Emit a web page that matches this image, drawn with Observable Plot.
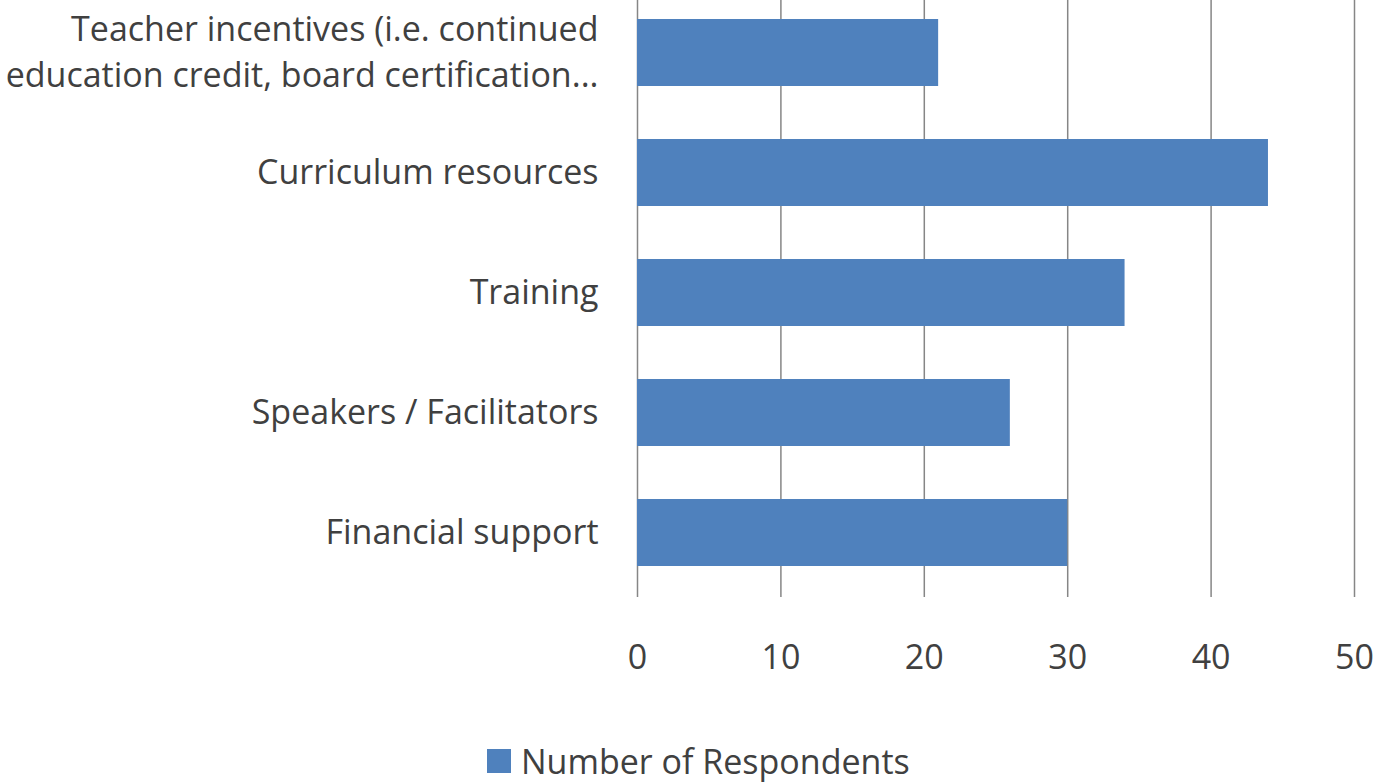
<!DOCTYPE html>
<html>
<head>
<meta charset="utf-8">
<script src="https://cdn.jsdelivr.net/npm/d3@7"></script>
<script src="https://cdn.jsdelivr.net/npm/@observablehq/plot@0.6"></script>
<style>
  html, body { margin: 0; padding: 0; background: #fff; overflow: hidden; }
  #chart { position: relative; width: 1387px; height: 782px; }
  #chart svg { position: absolute; left: 0; top: -9px; }
  #legend { position: absolute; left: 487px; top: 744px; display: flex; align-items: center;
            font-family: "Open Sans", sans-serif; font-size: 34px; line-height: 34px; color: #404040; }
  #legend .sw { width: 24px; height: 24px; background: #4f81bd; margin-right: 10px; }
</style>
</head>
<body>
<div id="chart"></div>
<script>
const categories = ["Teacher incentives", "Curriculum resources", "Training", "Speakers / Facilitators", "Financial support"];
const labels = [
  "Teacher incentives (i.e. continued\neducation credit, board certification...",
  "Curriculum resources",
  "Training",
  "Speakers / Facilitators",
  "Financial support"
];
const respondents = [21, 44, 34, 26, 30];
const xTicks = [0, 10, 20, 30, 40, 50];
const seriesName = "Number of Respondents";

const data = categories.map((c, i) => ({category: c, value: respondents[i]}));
const labelOf = new Map(categories.map((c, i) => [c, labels[i]]));

const font = "'Open Sans', sans-serif";
const plot = Plot.plot({
  width: 1387,
  height: 720,
  marginTop: 0,
  marginBottom: 116,
  marginLeft: 637,
  marginRight: 33,
  style: {fontFamily: font, color: "#404040", background: "#fff"},
  x: {domain: [0, 50], ticks: xTicks},
  y: {domain: categories, paddingInner: 0.44, paddingOuter: 0.22},
  marks: [
    Plot.gridX(xTicks, {stroke: "#868686", strokeOpacity: 1, strokeWidth: 1.5}),
    Plot.barX(data, {x: "value", y: "category", fill: "#4f81bd"}),
    Plot.axisX({ticks: xTicks, tickSize: 2, stroke: "#868686", strokeWidth: 1.5, tickPadding: 47, fontSize: 34, fill: "#404040", fontFamily: font, label: null}),
    Plot.axisY({tickSize: 0, tickPadding: 39, fontSize: 34, fill: "#404040", fontFamily: font, lineHeight: 1.38, dy: -4, tickFormat: d => labelOf.get(d), label: null})
  ]
});
document.getElementById("chart").appendChild(plot);
const legend = document.createElement("div");
legend.id = "legend";
legend.innerHTML = `<div class="sw"></div><span>${seriesName}</span>`;
document.getElementById("chart").appendChild(legend);
</script>
</body>
</html>
